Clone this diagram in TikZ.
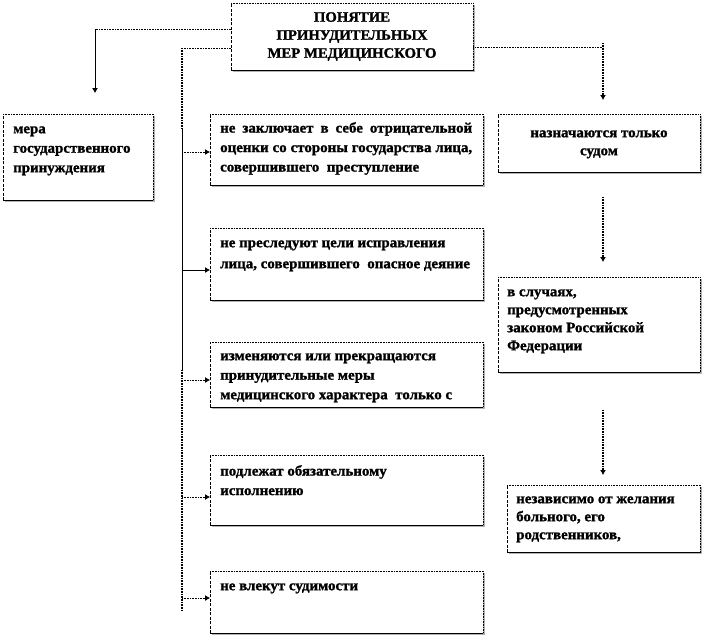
\documentclass[tikz,border=0pt]{standalone}
\usepackage{fontspec}
\setmainfont{Liberation Serif}
\newfontfamily\heavy[FakeStretch=1.03, FakeBold=1.3]{Liberation Serif Bold}
\usetikzlibrary{arrows.meta,shadows}
\newcommand{\Tst}{\rule{0pt}{10pt}}
\begin{document}
\begin{tikzpicture}[x=1pt,y=-1pt,
  box/.style={fill=white, inner sep=0pt, anchor=north west,
    drop shadow={shadow xshift=2pt, shadow yshift=-2pt, fill=gray!60, opacity=1},
    append after command={
      (\tikzlastnode.south west) edge[line width=0.8pt, dash pattern=on 3pt off 1.5pt] (\tikzlastnode.north west)
      (\tikzlastnode.north west) edge[line width=0.8pt, dash pattern=on 1pt off 0.6pt] (\tikzlastnode.north east)
      (\tikzlastnode.north east) edge[line width=0.8pt, dash pattern=on 1pt off 0.6pt] (\tikzlastnode.south east)
      (\tikzlastnode.south east) edge[line width=0.9pt] (\tikzlastnode.south west)}},
  txt/.style={anchor=north west, inner sep=0pt, align=left,
    font=\heavy\fontsize{14.5}{19.5}\selectfont},
  thindot/.style={line width=0.8pt, dash pattern=on 0.8pt off 0.8pt},
  thickdot/.style={line width=1.6pt, dash pattern=on 0.8pt off 0.8pt},
  solidln/.style={line width=0.8pt},
  tip/.style={-{Latex[length=5pt,width=6pt]}}]
\useasboundingbox (0,0) rectangle (702,635);

% boxes
\node[box, minimum width=242pt, minimum height=67pt] (top) at (231,3) {};
\node[txt, anchor=north, align=center, font=\heavy\fontsize{14.3}{18}\selectfont] (topt) at (352,11.5)
  {\Tst ПОНЯТИЕ\\ПРИНУДИТЕЛЬНЫХ\\МЕР МЕДИЦИНСКОГО};

\node[box, minimum width=150pt, minimum height=86pt] (lb) at (3,114) {};
\node[txt] (lbt) at (13,123) {\Tst мера\\государственного\\принуждения};

\node[box, minimum width=273pt, minimum height=71pt] (m1) at (210,114) {};
\node[txt] (m1t) at (220,122) {\Tst\makebox[252pt][s]{не заключает в себе отрицательной}\\
  \makebox[252pt][s]{оценки со стороны государства лица,}\\совершившего\ \ преступление};

\node[box, minimum width=273pt, minimum height=72pt] (m2) at (210,228) {};
\node[txt, font=\heavy\fontsize{14.5}{21}\selectfont] (m2t) at (220,237) {\Tst не преследуют цели исправления\\лица, совершившего\ \ опасное деяние};

\node[box, minimum width=273pt, minimum height=65pt] (m3) at (210,342) {};
\node[txt] (m3t) at (220,350) {\Tst изменяются или прекращаются\\принудительные меры\\медицинского характера\ \ только с};

\node[box, minimum width=273pt, minimum height=70pt] (m4) at (210,455) {};
\node[txt] (m4t) at (220,465) {\Tst подлежат обязательному\\исполнению};

\node[box, minimum width=273pt, minimum height=62pt] (m5) at (210,571) {};
\node[txt] (m5t) at (220,580) {\Tst не влекут судимости};

\node[box, minimum width=202pt, minimum height=58pt] (r1) at (498,114) {};
\node[txt, anchor=north, align=center, font=\heavy\fontsize{14.5}{18}\selectfont] (r1t) at (599,127) {\Tst назначаются только\\судом};

\node[box, minimum width=202pt, minimum height=95pt] (r2) at (498,277) {};
\node[txt, font=\heavy\fontsize{14.5}{18}\selectfont] (r2t) at (507,286) {\Tst в случаях,\\предусмотренных\\законом Российской\\Федерации};

\node[box, minimum width=193pt, minimum height=67pt] (r3) at (507,485) {};
\node[txt, font=\heavy\fontsize{14.5}{18}\selectfont] (r3t) at (516,493) {\Tst независимо от желания\\больного, его\\родственников,};

% left connector
\coordinate (L1) at (95,29);
\coordinate (L1e) at (95,93);
\draw[thindot] (top.west |- L1) -- (L1);
\draw[solidln, tip] (L1) -- (L1e);

% trunk
\coordinate (V) at (182,48);
\coordinate (Vs1) at (182,129);
\coordinate (Vs2) at (182,370);
\coordinate (Vend) at (182,611);
\draw[thindot] (top.west |- V) -- (V);
\draw[thickdot] (V) -- (Vs1);
\draw[solidln] (Vs1) -- (Vs2);
\draw[thickdot] (Vs2) -- (Vend);

\coordinate (B1) at (182,152);
\coordinate (B2) at (182,270);
\coordinate (B3) at (182,380);
\coordinate (B4) at (182,497);
\coordinate (B5) at (182,598);
\draw[thindot, tip] (B1) -- (B1 -| m1.west);
\draw[solidln, tip] (B2) -- (B2 -| m2.west);
\draw[thindot, tip] (B3) -- (B3 -| m3.west);
\draw[thindot, tip] (B4) -- (B4 -| m4.west);
\draw[thindot, tip] (B5) -- (B5 -| m5.west);

% right connectors
\coordinate (R) at (603,47);
\coordinate (Rt) at (603,43);
\coordinate (Re) at (603,100);
\draw[thindot] (top.east |- R) -- (R);
\draw[thickdot, tip] (Rt) -- (Re);

\coordinate (R2s) at (603,197);
\coordinate (R2e) at (603,262);
\draw[thickdot, tip] (R2s) -- (R2e);
\coordinate (R3s) at (603,410);
\coordinate (R3e) at (603,475);
\draw[thickdot, tip] (R3s) -- (R3e);
\end{tikzpicture}
\end{document}
